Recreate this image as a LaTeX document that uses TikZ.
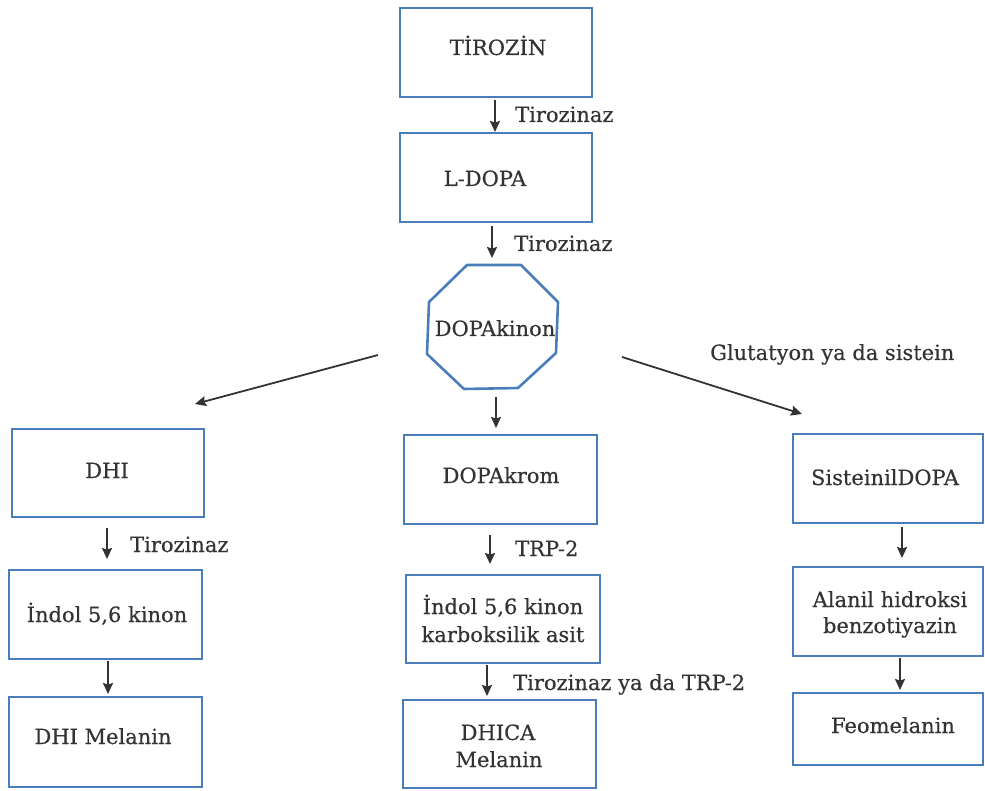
\documentclass[tikz,border=0pt]{standalone}
\usepackage{fontspec}
\setmainfont{DejaVu Serif}[FakeBold=0.4]
\usetikzlibrary{arrows.meta,fit}
\definecolor{boxblue}{HTML}{4A7EBB}
\definecolor{arrgray}{HTML}{333333}
\definecolor{txtgray}{HTML}{333333}
\tikzset{
  box/.style={draw=boxblue, line width=2.6pt, inner sep=0pt},
  txt/.style={font=\fontsize{21}{27}\selectfont, text=txtgray, inner sep=0pt, align=center},
  arr/.style={draw=arrgray, line width=1.8pt, -{Stealth[length=11pt,width=10pt,inset=1.5pt]}},
}
\begin{document}
\begin{tikzpicture}[x=1pt,y=-1pt]
\useasboundingbox (0,0) rectangle (985,791);

% ---------- boxes ----------
\node[box, fit={(400,8)(592,97)}] (tir) {};
\node[box, fit={(400,133)(592,222)}] (ldopa) {};
\node[box, fit={(12,429)(204,517)}] (dhi) {};
\node[box, fit={(9,570)(202,659)}] (ind1) {};
\node[box, fit={(9,697)(202,787)}] (dhim) {};
\node[box, fit={(404,435)(597,524)}] (krom) {};
\node[box, fit={(406,575)(600,663)}] (ind2) {};
\node[box, fit={(403,700)(596,788)}] (dhica) {};
\node[box, fit={(793,434)(983,523)}] (sist) {};
\node[box, fit={(793,567)(983,656)}] (alan) {};
\node[box, fit={(793,693)(983,765)}] (feo) {};

% octagon
\draw[box, line join=round] (467,265) -- (521,265) -- (558,302) -- (556,353) -- (518,388) -- (464,389) -- (427,354) -- (429,302) -- cycle;

% ---------- texts ----------
\node[txt, anchor=base] (tirT) at (498,55) {TİROZİN};
\node[txt, anchor=base] (ldopaT) at (485,186) {L-DOPA};
\node[txt, anchor=base] (dkT) at (495,336) {DOPAkinon};
\node[txt, anchor=base] (dhiT) at (107,478) {DHI};
\node[txt, anchor=base] (ind1T) at (107,622) {İndol 5,6 kinon};
\node[txt, anchor=base] (dhimT) at (103,744) {DHI Melanin};
\node[txt, anchor=base] (kromT) at (501,483) {DOPAkrom};
\node[txt, anchor=base] (ind2T) at (503,614) {İndol 5,6 kinon};
\node[txt, anchor=base] (ind2T2) at (503,642) {karboksilik asit};
\node[txt, anchor=base] (dhicaT) at (498,740) {DHICA};
\node[txt, anchor=base] (dhicaT2) at (499,767) {Melanin};
\node[txt, anchor=base] (sistT) at (885,485) {SisteinilDOPA};
\node[txt, anchor=base] (alanT) at (890,607) {Alanil hidroksi};
\node[txt, anchor=base] (alanT2) at (890,633) {benzotiyazin};
\node[txt, anchor=base] (feoT) at (893,733) {Feomelanin};

% labels
\node[txt, anchor=base west] (l1) at (515,122) {Tirozinaz};
\node[txt, anchor=base west] (l2) at (514,251) {Tirozinaz};
\node[txt, anchor=base west] (l3) at (130,552) {Tirozinaz};
\node[txt, anchor=base west] (l4) at (515,556) {TRP-2};
\node[txt, anchor=base west] (l5) at (513,690) {Tirozinaz ya da TRP-2};
\node[txt, anchor=base west] (l6) at (710,360) {Glutatyon ya da sistein};

% ---------- arrow end points ----------
\coordinate (a1s) at (495,100); \coordinate (a1e) at (495,132);
\coordinate (a2s) at (492,226); \coordinate (a2e) at (492,258);
\coordinate (a3s) at (378,355); \coordinate (a3e) at (195,404);
\coordinate (a4s) at (622,357); \coordinate (a4e) at (802,414);
\coordinate (a5s) at (496,397); \coordinate (a5e) at (496,428);
\coordinate (a6s) at (107,528); \coordinate (a6e) at (107,559);
\coordinate (a7s) at (108,661); \coordinate (a7e) at (108,694);
\coordinate (a8s) at (490,535); \coordinate (a8e) at (490,564);
\coordinate (a9s) at (487,665); \coordinate (a9e) at (487,696);
\coordinate (a10s) at (902,527); \coordinate (a10e) at (902,558);
\coordinate (a11s) at (900,658); \coordinate (a11e) at (900,690);

\foreach \i in {1,...,11} \draw[arr] (a\i s) -- (a\i e);
\end{tikzpicture}
\end{document}
